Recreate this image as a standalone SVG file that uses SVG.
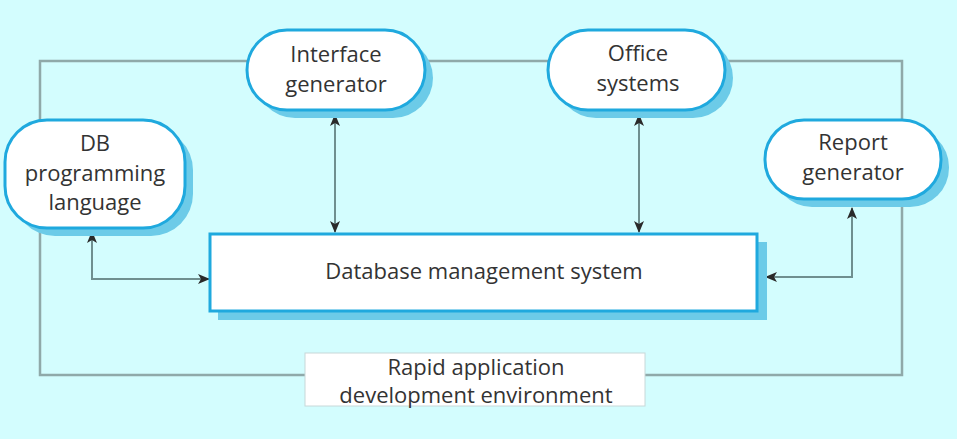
<svg xmlns="http://www.w3.org/2000/svg" width="957" height="439" viewBox="0 0 957 439">
<defs>
<style>
.shadow{fill:#6ccbe8}
.node{fill:#ffffff;stroke:#1fa9de;stroke-width:3}
.txt{font-family:"Open Sans","Liberation Sans",sans-serif;font-size:22px;fill:#333333;text-anchor:middle}
.frame{fill:none;stroke:#8fa9a9;stroke-width:2.5}
.conn{fill:none;stroke:#6f8f8f;stroke-width:2}
</style>
<marker id="ah" viewBox="0 0 12 10" refX="11" refY="5" markerWidth="12" markerHeight="10" markerUnits="userSpaceOnUse" orient="auto-start-reverse">
<path d="M0,0 L12,5 L0,10 L3,5 Z" fill="#2a2a2a"/>
</marker>
</defs>
<rect width="957" height="439" fill="#d3fdfe"/>
<g id="connectors">
<rect class="frame" x="40" y="61" width="862" height="314"/>
<line class="conn" x1="335" y1="115" x2="335" y2="232" marker-start="url(#ah)" marker-end="url(#ah)"/>
<line class="conn" x1="639" y1="115" x2="639" y2="232" marker-start="url(#ah)" marker-end="url(#ah)"/>
<polyline class="conn" points="92,232 92,279 209,279" marker-start="url(#ah)" marker-end="url(#ah)"/>
<polyline class="conn" points="852,208 852,277 766,277" marker-start="url(#ah)" marker-end="url(#ah)"/>
</g>
<g id="interface-generator">
<rect class="shadow" x="255" y="38" width="178" height="80" rx="40"/>
<rect class="node" x="247" y="30" width="178" height="80" rx="40"/>
<text class="txt" x="336" y="62">Interface</text>
<text class="txt" x="336" y="92">generator</text>
</g>
<g id="office-systems">
<rect class="shadow" x="556" y="38" width="177" height="80" rx="40"/>
<rect class="node" x="548" y="30" width="177" height="80" rx="40"/>
<text class="txt" x="638" y="61">Office</text>
<text class="txt" x="638" y="91">systems</text>
</g>
<g id="db-programming-language">
<rect class="shadow" x="13" y="128" width="180" height="108" rx="42"/>
<rect class="node" x="5" y="120" width="180" height="108" rx="42"/>
<text class="txt" x="95" y="151">DB</text>
<text class="txt" x="95" y="181">programming</text>
<text class="txt" x="95" y="210">language</text>
</g>
<g id="report-generator">
<rect class="shadow" x="773" y="128" width="176" height="79" rx="39"/>
<rect class="node" x="765" y="120" width="176" height="79" rx="39"/>
<text class="txt" x="853" y="150">Report</text>
<text class="txt" x="853" y="180">generator</text>
</g>
<g id="database-management-system">
<rect class="shadow" x="218" y="242" width="549" height="78"/>
<rect class="node" x="210" y="234" width="547" height="77"/>
<text class="txt" x="484" y="279">Database management system</text>
</g>
<g id="rapid-application-development-environment">
<rect x="305" y="353" width="340" height="53" fill="#ffffff" stroke="#c8d8d8" stroke-width="1"/>
<text class="txt" x="476" y="375">Rapid application</text>
<text class="txt" x="476" y="403">development environment</text>
</g>
</svg>
